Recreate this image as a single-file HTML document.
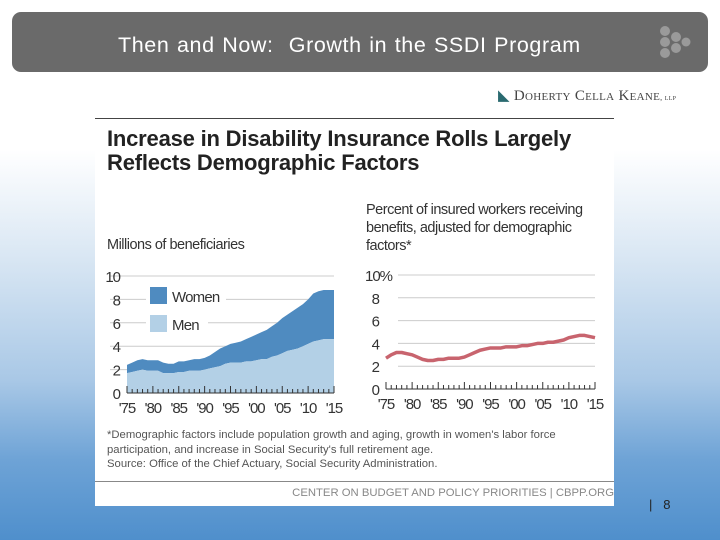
<!DOCTYPE html>
<html><head><meta charset="utf-8"><style>
body{margin:0;width:720px;height:540px;overflow:hidden;font-family:"Liberation Sans",sans-serif;
background:linear-gradient(to bottom,#ffffff 0px,#ffffff 150px,#d8e6f3 260px,#a9c8e6 380px,#6ea3d6 460px,#4f8fcc 540px);position:relative}
#hdr{position:absolute;left:12px;top:12px;width:696px;height:60px;background:#6a6a6a;border-radius:9px}
#hdr-t{position:absolute;left:118px;top:33px;color:#fff;font-size:21.5px;letter-spacing:0.6px;word-spacing:1px}
#box{position:absolute;left:95px;top:118px;width:519px;height:387px;background:#fff;border-top:1px solid #444}
</style></head><body>
<div id="hdr"></div>
<div id="hdr-t">Then and Now:&nbsp; Growth in the SSDI Program</div>
<svg style="position:absolute;left:656px;top:25px" width="36" height="36">
<g fill="#9a9a9a"><circle cx="9" cy="6" r="5"/><circle cx="9" cy="17" r="5"/><circle cx="9" cy="28" r="5"/><circle cx="20" cy="12" r="5"/><circle cx="20" cy="23" r="5"/><circle cx="30" cy="17" r="4.5"/></g></svg>
<div style="position:absolute;left:498px;top:86px;font-family:'Liberation Serif',serif;font-size:15px;color:#444;font-variant:small-caps;letter-spacing:0.3px"><span style="color:#2a6a70">◣</span> Doherty Cella Keane<span style="font-size:8px">, llp</span></div>
<div id="box">
<div style="position:absolute;left:12px;top:8px;font-size:22px;font-weight:bold;color:#222;line-height:24px;letter-spacing:-0.2px">Increase in Disability Insurance Rolls Largely<br>Reflects Demographic Factors</div>
<div style="position:absolute;left:12px;top:118px;font-size:14.5px;color:#333;letter-spacing:-0.5px">Millions of beneficiaries</div>
<div style="position:absolute;left:271px;top:82px;font-size:14.5px;color:#333;line-height:18px;letter-spacing:-0.5px">Percent of insured workers receiving<br>benefits, adjusted for demographic<br>factors*</div>
<div style="position:absolute;left:12px;top:309px;font-size:11.3px;color:#555;line-height:14.5px">*Demographic factors include population growth and aging, growth in women's labor force<br>participation, and increase in Social Security's full retirement age.<br>Source: Office of the Chief Actuary, Social Security Administration.</div>
<div style="position:absolute;left:0;top:362px;width:519px;height:1px;background:#888"></div>
<div style="position:absolute;right:0;top:368px;font-size:11.3px;color:#888">CENTER ON BUDGET AND POLICY PRIORITIES | CBPP.ORG</div>
</div>
<div style="position:absolute;left:649px;top:497px;font-size:13px;color:#222">|&nbsp;&nbsp; 8</div>
<svg id="ch" width="720" height="540" style="position:absolute;left:0;top:0"></svg>
<script>
const years=[];for(let y=1975;y<=2015;y++)years.push(y);
const men=[1.7,1.8,1.9,2.0,1.9,1.9,1.9,1.7,1.7,1.7,1.8,1.8,1.9,1.9,1.9,2.0,2.1,2.2,2.3,2.5,2.6,2.6,2.6,2.7,2.7,2.8,2.9,2.9,3.1,3.2,3.4,3.6,3.7,3.8,4.0,4.2,4.4,4.5,4.6,4.6,4.6];
const total=[2.4,2.6,2.8,2.9,2.8,2.8,2.8,2.6,2.5,2.5,2.7,2.7,2.8,2.9,2.9,3.0,3.2,3.5,3.8,4.0,4.2,4.3,4.4,4.6,4.8,5.0,5.2,5.4,5.7,6.0,6.4,6.7,7.0,7.3,7.6,8.0,8.5,8.7,8.8,8.8,8.8];
const rate=[2.7,3.0,3.2,3.2,3.1,3.0,2.8,2.6,2.5,2.5,2.6,2.6,2.7,2.7,2.7,2.8,3.0,3.2,3.4,3.5,3.6,3.6,3.6,3.7,3.7,3.7,3.8,3.8,3.9,4.0,4.0,4.1,4.1,4.2,4.3,4.5,4.6,4.7,4.7,4.6,4.5];
const yTicks=[0,2,4,6,8,10];
const xLabels=["'75","'80","'85","'90","'95","'00","'05","'10","'15"];
const svg=document.getElementById('ch');const NS='http://www.w3.org/2000/svg';
function mk(t,a,p){const e=document.createElementNS(NS,t);for(const k in a)e.setAttribute(k,a[k]);(p||svg).appendChild(e);return e;}
function chart(x0,x1,y0,y10,gx0,pct,name){
 const X=y=>x0+(y-1975)/40*(x1-x0), Y=v=>y0+(y10-y0)*v/10;
 yTicks.forEach(t=>{
  if(t>0){const l=mk('line',{x1:gx0,x2:x1,y1:Y(t),y2:Y(t),stroke:'#ccc','stroke-width':1});
  }
  const tx=mk('text',{x:x0-7,y:Y(t)+6,'text-anchor':'end','font-size':15,fill:'#333','font-family':'Liberation Sans, sans-serif','letter-spacing':'-1'});
  tx.textContent=t+(pct&&t==10?'%':'');
  if(pct&&t==10){tx.setAttribute('text-anchor','start');tx.setAttribute('x',x0-21);}
  
 });
 return {X,Y};
}
const L=chart(127,334,393,276,110,false,'left');
let topPath='';
years.forEach((y,i)=>{topPath+=(i?'L':'M')+L.X(y)+','+L.Y(total[i]);});
const ptsM=years.map((y,i)=>L.X(y)+','+L.Y(men[i]));
const women=mk('path',{d:topPath+'L'+ptsM.slice().reverse().join('L')+'Z',fill:'#4f8bc0'});


const menA=mk('path',{d:'M'+L.X(1975)+','+L.Y(0)+'L'+ptsM.join('L')+'L'+L.X(2015)+','+L.Y(0)+'Z',fill:'#b3d0e6'});


[['Women','#4f8bc0',296],['Men','#b3d0e6',324]].forEach(([t,c,y])=>{
 const bg=mk('rect',{x:146,y:y-12,width:t=='Men'?62:80,height:24,fill:'#fff'});
 
 
 const r=mk('rect',{x:150,y:y-9,width:17,height:17,fill:c});
 
 
 const tx=mk('text',{x:172,y:y+6,'font-size':15,fill:'#333','font-family':'Liberation Sans, sans-serif','letter-spacing':'-0.8'});tx.textContent=t;
 
 
});
const R=chart(386,595,389,275,398,true,'right');
const rl=years.map((y,i)=>(i?'L':'M')+R.X(y)+','+R.Y(rate[i])).join('');
const line=mk('path',{d:rl,fill:'none',stroke:'#c8646e','stroke-width':3.5,'stroke-linejoin':'round'});


[[L,'left'],[R,'right']].forEach(([A,n])=>{
 const ax=mk('line',{x1:A.X(1975),x2:A.X(2015),y1:A.Y(0),y2:A.Y(0),stroke:'#333','stroke-width':1});
 
 
 years.forEach((y,i)=>{const h=(y%5==0)?7:4;
  const t=mk('line',{x1:A.X(y),x2:A.X(y),y1:A.Y(0),y2:A.Y(0)-h,stroke:'#333','stroke-width':1});
  
  });
 xLabels.forEach((lb,i)=>{const tx=mk('text',{x:A.X(1975+5*i),y:A.Y(0)+20,'text-anchor':'middle','font-size':15,fill:'#333','font-family':'Liberation Sans, sans-serif','letter-spacing':'-1'});
  tx.textContent=lb;
  
  });
});
</script>
</body></html>
